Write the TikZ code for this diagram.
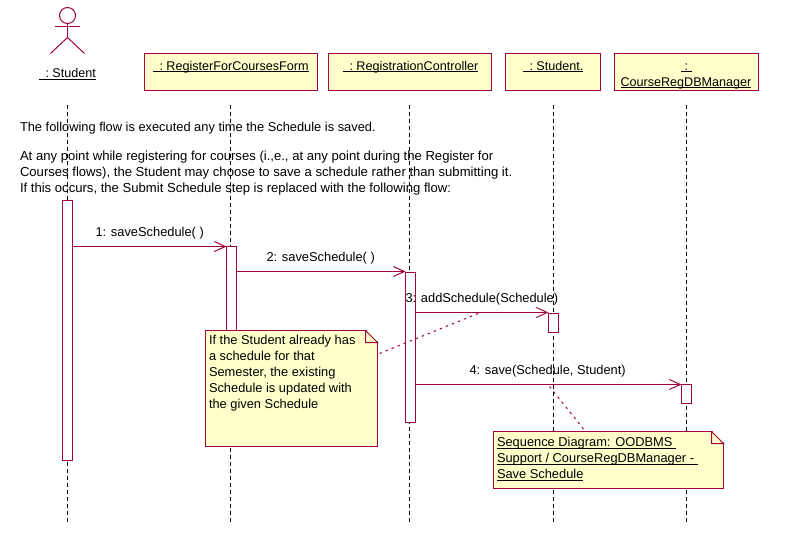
\documentclass[tikz,border=0pt]{standalone}
\usepackage{fontspec}
\setmainfont{Liberation Sans}
\usetikzlibrary{calc,arrows.meta}
\definecolor{umlline}{HTML}{A00040}
\definecolor{umlfill}{HTML}{FFFFCB}
\newcommand{\ul}[1]{\underline{\smash{#1}}}
\tikzset{
  x=1pt,y=-1pt,
  every node/.style={font=\fontsize{12.85}{16}\selectfont,inner sep=0pt,outer sep=0pt,text=black},
  objname/.style={anchor=base west,align=left,font=\fontsize{12.6}{16}\selectfont},
  objbox/.style={draw=umlline,fill=umlfill,line width=1pt,minimum height=37pt,anchor=north west,align=center},
  lifeline/.style={draw=black,line width=1pt,dash pattern=on 4pt off 3pt},
  bar/.style={draw=umlline,fill=white,line width=1pt,minimum width=10pt,anchor=north west},
  msg/.style={draw=umlline,line width=1pt,-{Straight Barb[length=11pt,width=10pt,line width=1pt]}},
  notebox/.style={draw=umlline,fill=umlfill,line width=1pt,anchor=north west},
  notelink/.style={draw=umlline,line width=1pt,dash pattern=on 2.5pt off 4pt},
  txt/.style={anchor=base west,align=left},
  actorline/.style={draw=umlline,line width=1pt},
}
\begin{document}
\begin{tikzpicture}
\useasboundingbox (0,0) rectangle (796,547);
\begin{scope}[shift={(0.5,0.5)}]
% lifelines
\foreach \n/\px in {a/67,b/230,c/409,d/553,e/686}{
  \coordinate (top\n) at (\px,104);
  \coordinate (bot\n) at (\px,521);
  \draw[lifeline] (top\n) -- (bot\n);
}
% actor
\node[draw=umlline,line width=1pt,circle,minimum size=16pt] (head) at (67,15) {};
\coordinate (hip) at (67,37);
\coordinate (armL) at (54,26);
\coordinate (armR) at (79,26);
\coordinate (legL) at (50,53);
\coordinate (legR) at (84,53);
\draw[actorline] (head.south) -- (hip);
\draw[actorline] (armL) -- (armR);
\draw[actorline] (legL) -- (hip) -- (legR);
\node[objname] (actorname) at (38,77) {\ul{\ \ :\ Student}};
% object boxes
\node[objbox,minimum width=173pt] (boxb) at (144,53) {};
\node[objname] (nameb) at (152,69.5) {\ul{\ \ :\ RegisterForCoursesForm}};
\node[objbox,minimum width=163pt] (boxc) at (328,53) {};
\node[objname] (namec) at (342,69.5) {\ul{\ \ :\ RegistrationController}};
\node[objbox,minimum width=95pt] (boxd) at (505,53) {};
\node[objname] (named) at (522,69.5) {\ul{\ \ :\ Student.}};
\node[objbox,minimum width=144pt] (boxe) at (614,53) {};
\node[objname] (namee1) at (680.5,69.5) {\ul{\ :\ }};
\node[objname] (namee2) at (620,85.5) {\ul{CourseRegDBManager}};
% free text
\node[anchor=north west,align=left] (flowtxt) at (19.5,122) {The following flow is executed any time the Schedule is saved.};
\node[anchor=north west,align=left,font=\fontsize{13.1}{16}\selectfont] (flowtxt2) at (19.5,151) {At any point while registering for courses (i.,e., at any point during the Register for\\Courses flows), the Student may choose to save a schedule rather than submitting it.\\If this occurs, the Submit Schedule step is replaced with the following flow:};
% activation bars
\node[bar,minimum height=260pt] (bara) at (62,200) {};
\node[bar,minimum height=170pt] (barb) at (226,246) {};
\node[bar,minimum height=150pt] (barc) at (405,272) {};
\node[bar,minimum height=19pt] (bard) at (548,313) {};
\node[bar,minimum height=19pt] (bare) at (681,384) {};
% messages
\draw[msg] (bara.east |- barb.north west) -- (barb.north west);
\node[txt] (m1) at (95,236) {1: saveSchedule( )};
\coordinate (m2s) at (236,271);
\draw[msg] (m2s) -- (m2s -| barc.west);
\node[txt] (m2) at (266,261) {2: saveSchedule( )};
\coordinate (m3s) at (415,312);
\draw[msg] (m3s) -- (m3s -| bard.west);
\node[txt] (m3) at (405,302) {3: addSchedule(Schedule)};
\draw[msg] (barc.east |- bare.north west) -- (bare.north west);
\node[txt] (m4) at (469,374) {4: save(Schedule, Student)};
% note 1
\node[notebox,minimum width=172pt,minimum height=116pt] (note1) at (205,330) {};
\fill[white] ($(note1.north east)+(-11.5,-0.8)$) -- ($(note1.north east)+(0.8,-0.8)$) -- ($(note1.north east)+(0.8,11.5)$) -- cycle;
\draw[umlline,line width=1pt] ($(note1.north east)+(-12,0)$) -- ($(note1.north east)+(0,12)$) -- ($(note1.north east)+(-12,12)$) -- cycle;
\node[anchor=north west,align=left] (note1txt) at (208.5,335) {If the Student already has\\a schedule for that\\Semester, the existing\\Schedule is updated with\\the given Schedule};
\coordinate (link1s) at (379,353);
\coordinate (link1e) at (480,312);
\draw[notelink] (link1s) -- (link1e);
% note 2
\node[notebox,minimum width=230pt,minimum height=57pt] (note2) at (493,431) {};
\fill[white] ($(note2.north east)+(-11.5,-0.8)$) -- ($(note2.north east)+(0.8,-0.8)$) -- ($(note2.north east)+(0.8,11.5)$) -- cycle;
\draw[umlline,line width=1pt] ($(note2.north east)+(-12,0)$) -- ($(note2.north east)+(0,12)$) -- ($(note2.north east)+(-12,12)$) -- cycle;
\node[txt] (note2a) at (496.5,446) {\ul{Sequence Diagram: OODBMS\ }};
\node[txt] (note2b) at (496.5,462) {\ul{Support / CourseRegDBManager -\ }};
\node[txt] (note2c) at (496.5,478) {\ul{Save Schedule}};
\coordinate (link2s) at (549,386);
\coordinate (link2e) at (585,431);
\draw[notelink] (link2s) -- (link2e);
\end{scope}
\end{tikzpicture}
\end{document}
